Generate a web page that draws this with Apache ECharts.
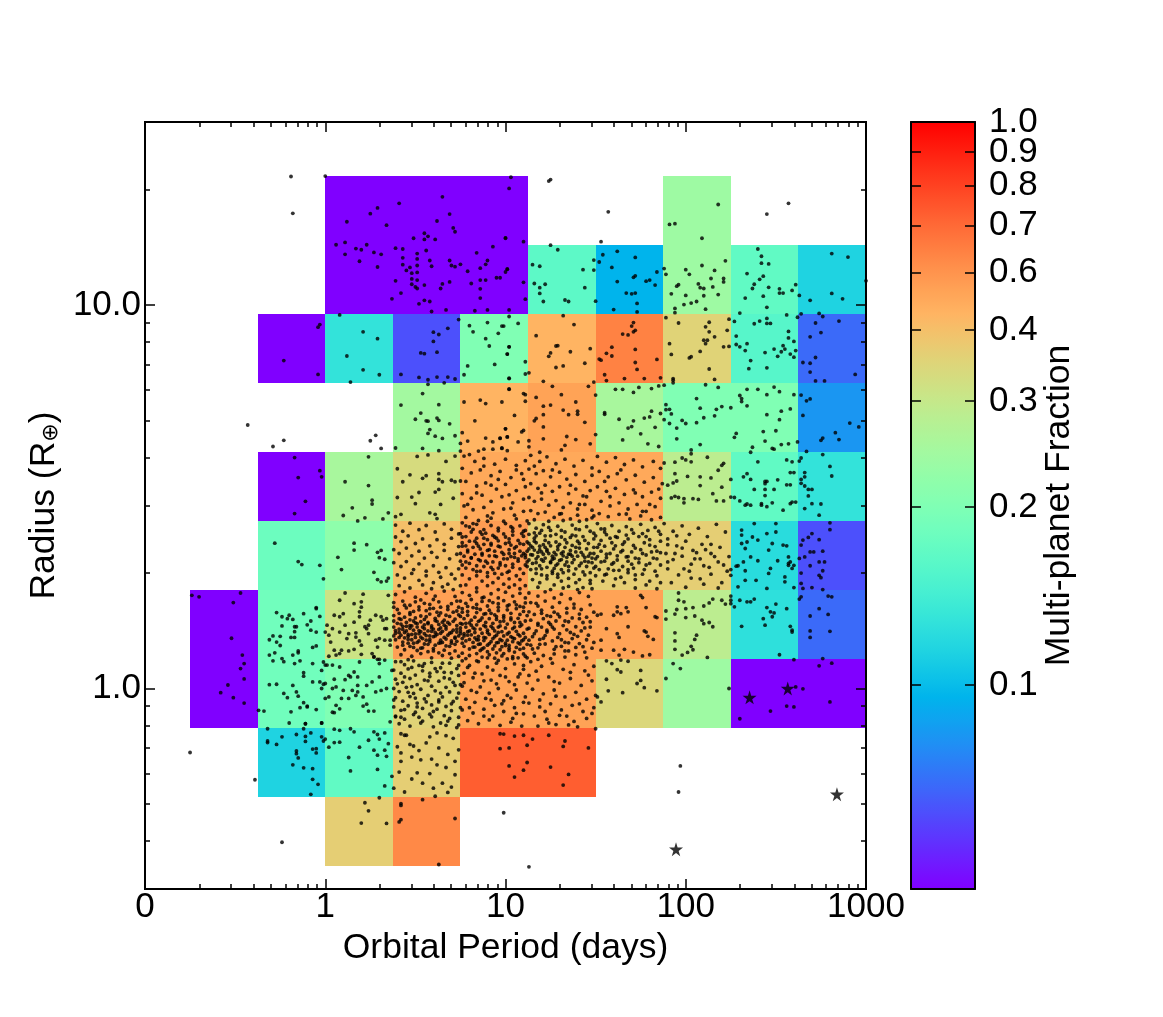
<!DOCTYPE html>
<html><head><meta charset="utf-8">
<style>html,body{margin:0;padding:0;background:#fff}#c{width:1163px;height:1017px}</style>
<script src="https://cdn.jsdelivr.net/npm/echarts@6/dist/echarts.min.js"></script></head>
<body><div id="c"></div><script>
const periodEdges=[0.178,0.422,1,2.37,5.62,13.3,31.6,75,178,422,1000];
const radiusEdges=[0.344,0.520,0.787,1.191,1.803,2.729,4.130,6.252,9.462,14.32,21.68];
const _=null;
const row0=[_,_,.369,.626,_,_,_,_,_,_];
const row1=[_,.119,.175,.369,.729,.729,_,_,_,_];
const row2=[0,.188,.201,.358,.536,.536,.347,.245,0,0];
const row3=[0,.188,.315,.549,.549,.536,.536,.288,.132,.051];
const row4=[_,.184,.223,.401,.563,.369,.369,.369,.128,.038];
const row5=[_,0,.259,.337,.509,.509,.509,.288,.175,.136];
const row6=[_,_,_,.252,.456,.536,.259,.201,.201,.075];
const row7=[_,0,.136,.038,.201,.456,.643,.358,.166,.051];
const row8=[_,_,0,0,0,.171,.094,.245,.175,.119];
const row9=[_,_,0,0,0,_,_,.245,_,_];
const rows=[row0,row1,row2,row3,row4,row5,row6,row7,row8,row9];
const fractionTicks=[0,.1,.2,.3,.4,.6,.7,.8,.9,1];
const tickLabels=['','0.1','0.2','0.3','0.4','0.6','0.7','0.8','0.9','1.0'];
const colorPos=[0,.266,.498,.636,.729,.804,.865,.917,.961,1];
const minorPos=[.0599,.1121,.1565,.1956,.4747,.6010,.6962,.7718,.8345,.8788,.9231,.9335];
const stars=[[226,.948],[368,1.0],[690,.53],[88.3,.381]];
// planets: flat pairs, log10(period)*100, log10(radius)*1000
const topLeft=[-19,1335,0,1336,-18,1239,102,1304,65,1282,29,1253,41,1265,25,1238,69,1237,12,1217,62,1219,34,1208,71,1201,72,1191,55,1187,57,1179,49,1174,55,1171,61,1171,100,1174,93,1152,6,1157,11,1163,17,1147,20,1144,23,1157,11,1132,27,1137,31,1132,19,1114,29,1099,39,1148,43,1146,56,1142,51,1134,43,1123,51,1120,58,1116,69,1116,84,1136,90,1116,89,1106,43,1105,51,1103,59,1101,70,1103,72,1100,75,1106,47,1098,45,1090,51,1085,48,1083,79,1088,86,1096,100,1086,101,1093,48,1068,51,1065,39,1063,69,1060,86,1065,89,1065,95,1071,97,1071,48,1054,55,1052,65,1055,81,1056,50,1047,51,1043,64,1043,86,1042,42,1031,37,1016,55,1012,58,1009,86,1018,52,1003,59,983,67,987,83,985,90,987,102,987,
8,974,-3,949,-4,942,-23,855,-4,819,21,930,29,912,12,867,21,831,30,818,14,799,60,929,63,923,68,939,60,905,53,875,55,873,62,877,42,819,52,811,57,805,62,812,68,812,72,807,57,793,66,797,74,962,80,946,82,930,90,954,98,945,96,926,89,912,91,893,102,891,101,872,94,845,79,841,77,818,102,808,
54,769,42,739,63,740,53,718,50,702,56,698,57,697,62,705,63,699,69,690,58,675,57,665,61,658,65,652,72,659,39,627,54,626,63,620,-43,687,-23,647,-29,631,28,660,25,646,31,626,102,780,77,747,86,752,89,743,98,747,83,698,100,677,76,667,79,645,75,639,89,653,97,652,101,656,93,643,75,619,85,619,88,624,93,624,98,626,
-17,602,-3,568,-2,552,-15,550,-11,488,24,604,11,539,24,529,26,491,26,481,51,605,57,609,72,606,67,592,40,573,63,560,47,557,56,555,54,548,63,545,65,539,43,539,70,543,72,539,75,541,63,519,61,512,52,511,48,499,40,498,71,496,50,482,64,480,-17,456,15,471,10,451,22,445,18,437,32,442,35,458,39,448,42,454,58,458,61,454,62,443];
const topRight=[103,1333,100,1175,110,1165,101,1094,110,1059,111,1015,124,1323,125,1327,157,1243,153,1165,125,1156,129,1144,115,1105,119,1101,143,1092,149,1091,116,1056,122,1054,119,1045,119,1030,121,1009,133,1013,135,1009,144,1045,150,1010,149,1117,152,1112,154,1131,162,1140,172,1124,159,1098,172,1076,171,1072,162,1061,178,1062,180,1065,184,1086,183,1052,167,1031,170,1029,172,1031,173,1004,160,988,173,982,191,1210,194,1212,218,1262,209,1174,222,1115,188,1095,189,1080,200,1092,209,1103,202,1080,216,1090,214,1069,221,1069,221,1060,207,1055,208,1045,210,1043,215,1047,196,1053,195,1049,192,1029,200,1025,210,1024,218,1027,199,1001,203,1005,206,1009,194,991,211,989,194,980,240,1146,242,1127,242,1109,246,1107,234,1082,243,1075,241,1067,238,1054,237,1043,246,1046,233,1018,243,1023,252,1042,252,1031,254,1031,259,1038,261,1053,245,994,263,1025,245,1237,257,1265,281,1134,290,1125,300,1063,281,1030,287,1016,269,1012,
102,970,99,945,107,952,102,891,101,872,111,852,102,809,111,820,113,823,132,972,138,949,117,920,128,893,129,894,125,875,124,866,136,878,147,886,128,837,132,841,144,848,121,801,149,799,171,954,170,945,172,934,171,930,165,924,168,922,159,890,156,874,159,867,172,884,152,859,153,856,172,850,184,858,173,832,155,818,156,803,166,808,177,808,186,810,189,967,196,953,213,955,211,943,213,930,224,963,223,934,216,917,210,908,212,908,211,899,191,899,221,891,224,892,208,879,192,871,203,865,202,862,213,833,216,806,193,808,193,804,193,797,230,979,227,957,238,951,241,958,245,965,245,952,247,952,256,974,257,931,257,914,260,905,228,919,228,897,230,891,234,899,233,881,244,876,249,885,251,866,253,878,254,894,255,885,258,872,260,864,261,881,236,855,235,834,245,836,262,968,264,977,274,978,276,970,272,953,285,958,275,928,269,917,272,863,265,850,269,848,269,825,272,802,277,802,294,819,
102,781,110,769,111,766,111,749,105,712,100,677,109,669,110,673,101,656,107,643,97,653,101,620,98,627,126,788,131,766,117,759,146,788,139,747,125,739,121,736,132,726,140,723,140,715,121,714,135,714,144,694,117,704,116,698,121,682,134,657,139,649,121,651,113,646,113,630,147,638,133,634,131,622,119,616,150,765,161,780,165,780,171,772,174,785,181,782,185,789,188,791,155,719,155,715,163,702,171,698,177,705,180,708,181,723,186,717,168,679,170,683,183,681,175,664,150,662,165,648,179,638,185,631,206,756,208,731,189,740,189,727,191,728,192,716,217,728,220,735,225,732,216,711,210,706,188,701,198,699,200,691,191,691,206,693,195,679,195,651,208,636,211,792,218,785,234,780,240,780,249,786,252,774,245,766,230,764,231,756,231,748,234,737,260,766,258,729,253,723,245,714,252,701,228,665,227,655,243,670,250,672,244,645,237,629,248,626,249,624,253,636,257,638,236,616,262,643,264,765,267,750,269,755,265,712,291,692,296,682,283,667,276,653,275,647,285,649,267,618];
const rightLower=[203,622,203,612,198,601,200,596,203,591,212,603,194,590,188,588,221,587,220,582,218,569,194,560,201,553,208,552,214,549,195,541,193,536,190,530,208,529,220,525,215,508,192,497,194,501,196,498,199,495,204,495,207,493,199,484,217,489,221,489,240,591,256,596,259,591,258,563,260,563,234,560,232,552,236,545,225,545,251,544,256,531,258,531,244,540,245,540,244,534,238,519,244,519,249,519,244,503,227,498,225,499,230,489,234,481,242,482,248,484,259,486,261,486,264,601,263,593,276,610,280,579,266,563,281,554,266,552,264,545,264,535,266,528,268,519,270,519,268,502,275,481,233,478,236,478,242,478,245,474,254,465,258,482,266,469,270,482,274,452,
231,413,231,400,238,430,250,408,250,430,245,404,234,382,233,365,231,378,236,343,232,330,228,319,229,320,225,310,233,307,240,333,246,361,247,313,246,300,251,333,256,372,254,374,257,343,258,330,260,321,259,313,257,321,255,291,255,278,245,261,239,282,229,265,233,282,260,263,248,378,240,387,237,395,257,326,225,295,280,432,280,414,270,404,268,394,265,387,264,374,274,388,269,356,271,356,276,358,266,343,263,339,274,330,269,320,277,330,276,307,274,295,275,289,264,301,264,274,265,261,270,263,276,258,
225,230,230,230,234,226,236,226,238,233,227,213,231,162,245,211,250,220,247,200,249,197,248,187,243,182,244,165,256,208,258,162,259,152,259,147,225,241,225,221,264,239,263,233,274,208,269,189,279,193,279,241,281,239,269,150,269,133,280,149,196,249,196,230,199,226,204,211,210,215,213,223,215,233,220,230,222,220,189,202,195,206,200,208,194,194,189,181,200,185,205,189,209,178,213,172,210,169,215,161,194,145,206,139,205,128,194,124,203,110,204,101,201,94,194,102,198,87,212,81,
162,213,167,211,168,200,162,200,164,195,160,191,153,194,151,191,178,211,183,187,184,185,175,243,176,237,168,161,177,150,178,147,179,136,182,128,162,143,163,133,153,126,156,156,166,102,171,95,176,85,180,88,160,100,163,87,153,100,
156,72,159,65,164,74,168,71,162,49,164,43,156,24,175,47,175,21,173,13,177,2,184,-6,157,-6,165,-11,151,-22,153,-35,193,65,197,52,189,26,224,0,247,-59,256,-46,260,-48,230,-79,261,4,265,-1,280,-35,274,59,281,66,276,78,260,75,252,88,197,-202,196,-270,113,-465,99,-324,
150,-105,97,-118,99,-119,105,-124,110,-122,115,-132,124,-122,133,-137,132,-151,112,-148,102,-155,97,-157,146,-155,112,-193,102,-202,110,-213,125,-205,135,-224,105,-231,132,-252];
const leftLower=[-74,243,-70,239,-47,249,-51,224,-52,131,-46,87,-45,65,-47,52,-45,25,-54,9,-58,-11,-51,-24,-45,-38,-75,-167,-39,-238,-24,-401,
-32,-105,-11,-92,-12,-105,-2,-90,-32,-137,-32,-141,-27,-146,-24,-126,-16,-120,-11,-125,-8,-116,-11,-138,-2,-126,0,-132,-1,-137,-5,-157,-7,-158,-5,-168,-16,-163,-16,-170,-15,-181,-18,-199,-12,-207,-7,-209,-7,-237,-4,-250,-8,-276,
5,-106,8,-109,14,-105,16,-113,2,-153,5,-141,8,-140,19,-153,24,-135,27,-113,29,-120,30,-132,33,-116,27,-161,29,-174,35,-144,33,-161,34,-177,13,-180,14,-215,29,-211,37,-229,33,-254,30,-285,22,-298,24,-319,20,-351,34,-352,42,-305,42,-300,42,-342,41,-348,54,-290,72,-339,63,-459,61,-281,
-28,379,-15,331,-13,323,-3,321,-1,286,16,379,23,375,16,361,7,342,9,310,31,360,29,355,30,341,33,337,27,303,29,284,31,278,34,280,35,288,
-27,198,-24,187,-20,191,-21,182,-18,180,-12,195,-5,211,-5,208,-3,188,-8,176,-10,166,-16,161,-17,161,-24,163,-8,152,-5,147,-17,148,-19,133,-29,137,-31,127,-25,136,-27,121,-17,133,-25,112,-5,111,-7,107,-15,98,-15,93,-28,93,-31,87,-24,78,-29,72,-23,70,-18,87,-17,65,-14,72,-7,65,-1,69,0,61,-2,47,-7,17,-12,41,-12,32,-3,17,-1,11,-2,0,-31,10,-27,11,-18,8,-23,-13,-21,-24,-16,-9,-15,-20,0,-26,-12,-37,-14,-50,-10,-46,-5,-55,-19,-61,-37,-57,-34,-59,-20,-90,-11,-92,-2,-90,4,-62,5,-63,-10,-48,
1,61,4,61,8,56,13,34,16,43,19,69,18,30,5,24,6,4,4,0,10,-5,18,8,23,8,26,17,30,30,28,-9,31,-5,34,0,18,-9,17,-18,21,-22,9,-26,13,-26,2,-22,33,74,30,65,27,83,37,47,6,-44,8,-53,23,-41,21,-46,24,-59,27,-59,36,-87,39,-74,15,-5,14,30,11,23,0,13,
11,249,8,230,21,246,20,226,20,212,35,243,16,221,5,191,10,195,19,200,19,187,28,191,25,178,31,187,32,178,34,182,24,165,23,156,16,173,11,165,4,156,1,165,8,147,13,143,34,156,17,134,24,143,33,156,2,139,12,130,30,130,3,121,19,124,20,113,36,126,36,113,5,100,9,100,8,91,13,98,2,84,20,89,26,91,27,82,29,76,30,76,33,126,29,108,16,102,6,87,22,161,8,187,17,145,0,147,28,126];
// Dense core, read as groups by cell
const coreRow3a=[39,245,44,252,50,238,56,248,61,241,66,254,72,240,38,224,43,228,47,217,53,231,58,219,63,226,68,214,73,228,40,206,45,210,49,201,52,213,56,203,60,209,64,197,68,206,71,199,74,212,38,190,41,196,44,186,47,193,50,184,53,189,55,180,58,194,61,183,63,190,66,178,69,188,72,181,74,192,38,176,40,170,42,180,45,172,47,164,49,176,51,169,53,174,55,166,57,172,59,163,61,177,63,167,65,173,67,161,69,168,71,175,73,164,75,170,38,160,41,155,43,162,45,150,47,157,49,152,51,160,53,148,55,156,57,150,59,158,61,146,63,154,65,149,67,155,69,144,71,152,73,147,75,158,39,144,42,139,44,146,46,136,48,141,50,133,52,143,54,130,56,138,58,128,60,135,62,141,64,126,66,133,68,139,70,124,72,131,74,137,39,127,43,121,46,128,49,118,52,124,55,116,58,122,61,113,64,119,67,111,70,118,73,123,40,108,44,101,47,110,51,99,54,106,57,96,60,104,63,93,66,100,69,91,72,98,42,88,48,84,53,91,59,80,65,86,70,79,74,84];
const coreRow3b=[76,250,80,243,84,252,88,238,92,247,96,236,100,251,104,241,108,248,111,236,75,228,78,222,81,232,84,219,87,227,90,215,93,224,96,212,99,229,102,218,105,226,108,214,111,223,76,208,79,201,82,211,84,198,86,206,89,195,91,204,94,192,96,203,99,190,101,205,103,196,106,208,108,193,110,201,112,190,75,188,77,182,79,191,81,178,83,186,85,175,87,184,89,172,91,182,93,170,95,180,97,174,99,185,101,168,103,179,105,172,107,183,109,166,111,176,76,168,78,160,80,171,82,158,84,166,86,155,88,164,90,152,92,162,94,150,96,160,98,148,100,158,102,146,104,156,106,149,108,162,110,144,112,155,75,150,77,143,79,148,81,140,83,146,85,136,87,144,89,132,91,141,93,130,95,139,97,128,99,137,101,126,103,135,105,130,107,141,109,124,111,133,76,130,78,124,80,128,82,120,84,127,86,116,88,125,90,113,92,122,94,111,96,120,98,109,100,118,102,112,104,122,106,107,108,116,110,105,112,115,77,110,80,103,83,108,86,99,88,106,90,96,93,103,95,93,97,101,99,91,102,99,105,95,108,102,110,90,76,92,80,86,84,91,87,82,91,88,94,79,98,85,101,77,104,83,107,80,111,84,78,78,84,72,90,80,96,73,104,78];
const coreRow3c=[113,249,118,241,122,252,127,236,131,246,136,234,141,250,146,240,114,224,118,215,122,228,126,212,130,224,134,209,138,220,142,206,147,218,113,200,116,193,120,204,123,190,127,199,130,187,134,197,137,184,141,194,145,186,149,199,114,178,118,170,121,182,125,167,128,176,132,164,135,174,139,161,143,172,147,160,113,157,117,150,120,160,123,147,127,155,130,143,134,153,138,141,142,150,146,139,115,135,119,128,122,138,126,124,129,133,133,120,137,130,141,117,145,127,149,120,114,113,118,106,122,116,127,102,131,110,135,98,139,107,144,95,148,105,116,92,121,86,127,90,133,82,139,88,145,80,112,80,118,76,125,78];
const coreRow4a=[39,426,43,410,47,431,52,414,56,425,61,408,66,429,70,415,74,403,39,395,42,383,46,398,50,378,54,390,58,372,62,388,66,376,70,392,74,370,38,362,41,352,45,366,48,346,52,358,55,340,59,355,62,342,66,360,69,338,73,350,75,332,38,328,42,318,45,331,49,310,52,325,56,306,60,320,63,303,67,315,70,298,74,312,40,296,44,288,48,300,52,282,56,294,60,276,64,290,68,272,72,286,75,268,41,268,47,262,54,270,59,260,65,265,71,258];
const coreRow4b=[76,432,80,421,84,428,88,414,92,425,96,411,100,430,104,418,108,424,111,412,75,404,78,396,81,408,84,392,87,402,90,388,93,399,96,385,99,403,102,390,104,400,107,386,110,397,112,382,76,380,78,372,80,384,82,368,84,378,86,364,88,376,90,360,92,374,94,358,96,371,98,355,100,378,102,362,103,374,105,352,106,370,108,358,110,376,111,348,75,352,77,345,79,356,81,340,83,350,85,336,87,348,89,332,91,346,93,330,95,344,97,328,99,350,101,338,102,352,104,324,105,342,107,332,109,346,111,322,76,322,78,314,80,326,82,310,84,320,86,306,88,318,90,302,92,316,94,300,96,314,98,298,100,320,102,306,104,316,106,294,108,312,110,300,112,318,76,296,80,286,84,294,87,280,90,292,93,276,96,288,99,272,102,286,105,270,108,284,111,268,78,270,84,262,90,268,96,258,102,264,108,260];
const coreRow4c=[113,430,117,418,121,427,125,412,129,423,133,408,137,426,141,414,145,422,149,405,113,402,116,392,119,405,122,386,125,398,128,382,131,395,134,380,137,400,140,384,143,396,146,378,149,390,113,378,115,368,117,380,119,362,121,375,123,358,125,372,127,355,129,370,131,352,133,368,135,350,137,373,139,356,141,366,143,348,145,364,147,352,149,368,112,358,114,349,116,361,118,344,120,356,122,340,124,352,126,337,128,349,130,334,132,346,134,330,136,350,138,336,140,345,142,327,144,342,146,330,148,340,113,335,115,326,117,338,119,320,121,332,123,316,125,328,127,313,129,325,131,310,133,322,135,307,137,328,139,312,141,320,143,304,145,318,147,302,149,314,114,310,117,300,120,312,123,294,126,306,129,290,132,302,135,287,138,298,141,284,144,296,147,282,150,294,115,284,119,276,123,286,127,270,131,280,135,266,139,276,143,263,147,274,118,264,125,258,132,262,140,258,148,260];
const coreRow4d=[151,430,155,416,159,425,163,410,167,422,171,405,175,428,179,412,183,420,186,402,150,398,153,386,156,401,159,380,162,394,165,376,168,390,171,373,174,396,177,380,180,388,183,370,186,384,151,368,153,358,155,371,158,352,160,364,162,346,165,360,167,343,170,356,172,340,175,362,178,348,181,356,184,338,150,338,153,330,156,341,159,324,162,335,165,318,168,332,171,314,174,328,177,310,180,326,183,306,186,322,152,310,156,298,160,308,164,290,168,302,172,284,176,298,180,280,184,294,186,276,154,280,160,268,166,276,172,262,178,270,184,260,
188,430,193,410,198,424,202,402,207,418,212,396,217,428,222,408,190,390,195,372,200,384,204,360,209,376,214,352,219,368,224,344,189,352,193,336,198,345,203,324,208,338,213,316,218,330,223,306,190,312,196,296,202,306,208,286,214,298,220,276,192,276,200,264,210,272,218,262];
const coreRow5=[77,606,83,592,88,600,94,585,100,598,106,582,111,594,76,574,81,562,86,570,92,555,97,566,103,550,109,560,78,540,84,528,89,536,95,520,100,532,106,516,111,526,76,508,81,496,87,504,92,488,98,500,104,484,110,494,77,476,82,466,88,472,93,458,99,468,105,452,110,462,78,446,85,438,92,444,99,436,106,442,112,437,
114,608,119,592,123,604,128,586,133,598,138,580,143,595,148,575,113,572,117,560,121,568,125,552,130,564,134,546,139,558,144,540,148,556,114,534,118,522,122,530,126,514,130,526,135,508,139,520,143,502,147,516,113,498,116,488,120,494,124,478,128,490,132,472,136,484,140,468,144,480,148,465,114,464,118,456,122,460,127,446,131,456,136,442,140,452,145,440,149,450,116,440,124,436,132,438,141,436,
151,605,156,590,161,602,166,584,171,596,176,578,182,592,186,574,152,566,157,552,162,560,167,544,172,556,177,538,182,550,187,534,151,526,156,514,161,522,166,506,171,518,176,500,181,512,186,496,153,488,158,476,163,484,168,468,173,480,178,462,183,474,152,456,157,448,163,454,169,442,175,450,181,440,186,446];
const coreRow2a=[39,70,44,62,49,72,54,58,59,68,64,54,69,66,74,60,38,48,42,40,46,51,50,35,54,46,58,31,62,44,66,28,70,41,74,34,39,24,43,16,47,26,51,10,55,22,59,6,63,19,67,3,71,16,75,10,38,0,41,-8,45,3,49,-13,53,-2,57,-18,61,-6,65,-22,69,-9,73,-25,39,-24,43,-33,47,-21,51,-38,55,-27,59,-43,63,-30,67,-47,71,-34,75,-50,38,-48,42,-57,46,-45,50,-62,54,-52,58,-67,62,-54,66,-71,70,-58,74,-75,39,-72,44,-80,49,-68,54,-85,59,-74,64,-90,69,-78,74,-95,41,-92,47,-98,53,-90,60,-100,67,-96,73,-102,
42,-118,45,-122,49,-150,47,-146,52,-162,40,-152,42,-168,44,-122,58,-126,62,-116,67,-123,71,-130,56,-142,63,-155,68,-172,74,-160,48,-179,53,-186,59,-184,42,-190,62,-199,67,-206,72,-190,51,-220,58,-222,48,-236,54,-247,65,-247,44,-270,60,-260,68,-271,38,-260,70,-257,72,-225,41,-218];
const coreRow2b=[76,72,80,60,85,70,90,56,95,66,100,52,105,64,110,50,77,40,82,28,87,38,92,22,97,34,102,18,107,30,112,14,76,6,81,-5,86,4,91,-12,96,0,101,-18,106,-4,111,-22,78,-28,83,-36,89,-26,94,-44,99,-32,105,-50,110,-36,76,-56,82,-64,88,-54,93,-72,99,-60,104,-78,110,-66,79,-84,85,-92,91,-82,97,-96,103,-88,109,-98,
114,70,120,58,126,66,132,50,138,62,144,46,149,58,113,34,118,22,124,30,130,14,136,26,142,8,148,20,115,-2,121,-14,127,-4,133,-22,139,-10,145,-28,150,-18,113,-38,119,-48,125,-40,131,-56,137,-44,143,-60,149,-50,116,-72,123,-80,130,-70,138,-86,145,-78,118,-98,128,-94,140,-100];
// extra planets in the crowded clusters
const clusterLeft=[48,163,52,151,46,141,57,169,61,137,43,154,55,143,64,158,50,171,59,149,41,146,67,129,53,134,45,162,62,175,70,146,48,127,73,155,58,137,51,120,44,132,66,165,39,151,72,134,56,126,60,155,47,179,54,160,64,144,42,168,68,172,50,142,75,143,57,115,41,133,63,118,69,110,46,118,53,105,60,98,38,137,65,120,49,107,72,115,43,113,56,187,62,199,47,198,52,205,67,191,73,202,41,182,58,208,44,217,70,221,64,212,50,226,38,212,60,232,55,222,
79,139,85,127,90,146,83,155,95,119,88,133,101,142,76,118,93,157,82,108,98,125,104,132,87,103,91,117,108,137,80,150,96,146,85,115,102,105,77,137,107,119,94,135,89,161,100,112,83,132,110,127,97,163,78,170,105,160,86,178,92,196,81,165,99,176,88,194,103,184,76,199,95,187,108,172,84,209,101,215,91,229,106,218,79,214,96,221,87,236,110,212,
116,143,121,131,126,160,119,115,131,127,124,172,136,146,113,126,128,109,140,136,118,165,133,176,123,152,144,158,135,119,115,103,129,194,141,182,120,196,125,188,138,210,117,222,147,174,133,98,143,109];
const clusterCentre=[88,392,92,378,85,371,97,369,102,381,79,361,94,346,87,352,99,338,105,366,91,362,83,384,76,371,100,395,108,378,95,392,81,341,103,344,90,327,97,322,86,333,107,338,78,330,93,310,101,303,84,305,110,352,89,405,96,418,82,415,104,410,76,395,110,410,
114,372,118,355,111,341,122,368,116,384,126,345,120,336,113,364,129,362,124,380,117,328,132,356,127,339,121,350,136,360,115,348,130,376,125,330,119,371,134,342,112,330,139,368,128,321,123,362,142,355,137,345,117,312,146,345,131,336,141,378,144,332,149,352,126,300,135,318,120,296,129,298,148,328,133,388,122,398,139,398,116,406,
152,376,156,350,161,372,158,392,164,356,168,344,151,344,172,366,155,332,176,352,160,328,166,382,180,374,150,318,170,324,184,358,163,308,174,338,157,312,178,322,168,310,182,340,155,296,172,296,186,354,161,286,153,416,167,400,176,404,
190,375,194,352,198,366,205,338,211,362,216,344,190,330,199,312,206,354,221,322,195,398,214,376,203,288,210,320];
const clusterUpper=[78,424,86,408,94,395,103,422,109,404,82,430,90,436,117,398,124,420,131,412,139,416,147,410,120,412,128,402,136,394,144,386,155,408,161,396,170,414,178,396,185,410,
80,610,88,580,96,545,106,570,84,510,92,530,102,505,110,545,79,480,90,450,103,470,116,580,126,570,136,530,145,500,120,510,130,455,141,480,148,445,155,540,164,570,172,510,180,480,158,500,167,455,185,520,176,462];
const clusterLower=[42,70,48,55,44,30,52,60,57,20,61,52,46,-10,40,12,66,42,72,8,50,-25,56,-35,64,-12,70,-40,44,-55,52,-75,60,-60,68,-85,38,-30,48,5,73,52,58,40,42,-75,55,65,46,75,65,66,69,25,63,-35,51,-48,74,-12,
79,55,88,20,93,48,100,30,108,38,84,-10,98,-40,105,10,77,15,92,-30,110,60,83,40,88,-72,103,-25,95,12,80,-50,106,-65,
117,45,127,18,136,42,146,35,119,-30,128,-20,141,-40,122,-60,134,-72,148,-65,124,-90,135,-95];
// helpers
function pos(f){for(let i=1;i<fractionTicks.length;i++){if(f<=fractionTicks[i]){const a=fractionTicks[i-1],b=fractionTicks[i];return colorPos[i-1]+(f-a)/(b-a)*(colorPos[i]-colorPos[i-1]);}}return 1;}
const cells=[];
rows.forEach((r,j)=>r.forEach((f,i)=>{if(f!==null)cells.push([periodEdges[i],periodEdges[i+1],radiusEdges[j],radiusEdges[j+1],pos(f)]);}));
function toPts(a){const o=[];for(let i=0;i+1<a.length;i+=2)o.push([Math.pow(10,a[i]/100),Math.pow(10,a[i+1]/1000)]);return o;}
const points=[topLeft,topRight,rightLower,leftLower,coreRow3a,coreRow3b,coreRow3c,coreRow4a,coreRow4b,coreRow4c,coreRow4d,coreRow5,coreRow2a,coreRow2b,clusterLeft,clusterCentre,clusterUpper,clusterLower].map(toPts).flat();
const rainbowStops=[];
for(let i=0;i<=32;i++){const t=i/32,c=v=>Math.round(255*Math.min(1,Math.max(0,v)));rainbowStops.push('rgb('+c(Math.abs(2*t-.5))+','+c(Math.sin(Math.PI*t))+','+c(Math.cos(Math.PI*t/2))+')');}
const xMinor=[],yMinor=[];
[.1,1,10,100].forEach(d=>{for(let k=2;k<10;k++)xMinor.push(+(d*k).toPrecision(3));});
[.3,.4,.5,.6,.7,.8,.9,2,3,4,5,6,7,8,9,20,30].forEach(v=>yMinor.push(v));
const F='"Liberation Sans",Arial,sans-serif';
const lab={fontFamily:F,fontSize:35,color:'#000'};
const nameLab={fontFamily:F,fontSize:35.5,color:'#000'};
const gridA={left:145,top:122,width:721,height:767};
const gridC={left:911,top:122,width:64,height:767};
const line={show:true,onZero:false,lineStyle:{color:'#000',width:2}};
function xAx(g,p,vals,len,extra){return Object.assign({type:'log',logBase:10,gridIndex:g,position:p,min:.1,max:1000,z:10,axisLine:line,splitLine:{show:false},minorTick:{show:false},axisLabel:{show:false},axisTick:{show:true,inside:true,length:len,customValues:vals,lineStyle:{color:'#000',width:1.5}}},extra||{});}
function yAx(g,p,vals,len,extra){return Object.assign({type:'log',logBase:10,gridIndex:g,position:p,min:.3,max:30,z:10,axisLine:line,splitLine:{show:false},minorTick:{show:false},axisLabel:{show:false},axisTick:{show:true,inside:true,length:len,customValues:vals,lineStyle:{color:'#000',width:1.5}}},extra||{});}
const barLabel=vals=>Object.assign({show:true,margin:14,customValues:vals,hideOverlap:false,showMinLabel:true,showMaxLabel:true,lineHeight:24,padding:[5,0,0,0],formatter:v=>tickLabels[colorPos.indexOf(v)]},lab);
const option={animation:false,backgroundColor:'#fff',
grid:[gridA,gridA,gridC,gridC],
xAxis:[
 xAx(0,'bottom',[1,10,100],10,{name:'Orbital Period (days)',nameLocation:'middle',nameGap:37,nameTextStyle:nameLab,axisLabel:Object.assign({show:true,margin:1,customValues:[.1,1,10,100,1000],showMinLabel:true,showMaxLabel:true,hideOverlap:false,formatter:v=>v<.5?'0':String(Math.round(v))},lab)}),
 xAx(0,'top',[1,10,100],10),
 xAx(1,'bottom',xMinor,5),
 xAx(1,'top',xMinor,5),
 {type:'value',gridIndex:2,position:'bottom',min:0,max:1,axisLine:line,axisTick:{show:false},axisLabel:{show:false},splitLine:{show:false},z:10},
 {type:'value',gridIndex:2,position:'top',min:0,max:1,axisLine:line,axisTick:{show:false},axisLabel:{show:false},splitLine:{show:false},z:10},
 {type:'value',gridIndex:3,min:0,max:1,show:false}
],
yAxis:[
 yAx(0,'left',[1,10],10,{name:'Radius (R{s|⊕})',nameLocation:'middle',nameGap:76,nameRotate:90,nameTextStyle:Object.assign({rich:{s:{fontFamily:'DejaVu Sans',fontSize:22,color:'#000',verticalAlign:'bottom',lineHeight:34}}},nameLab),axisLabel:Object.assign({show:true,margin:4,customValues:[1,10],hideOverlap:false,formatter:v=>v<5?'1.0':'10.0'},lab)}),
 yAx(0,'right',[1,10],10),
 yAx(1,'left',yMinor,5),
 yAx(1,'right',yMinor,5),
 {type:'value',gridIndex:2,position:'left',min:0,max:1,axisLine:line,axisLabel:{show:false},splitLine:{show:false},z:10,axisTick:{show:true,inside:true,length:10,customValues:colorPos.slice(1,-1),lineStyle:{color:'#000',width:1.5}}},
 {type:'value',gridIndex:2,position:'right',min:0,max:1,axisLine:line,splitLine:{show:false},z:10,axisTick:{show:true,inside:true,length:10,customValues:colorPos.slice(1,-1),lineStyle:{color:'#000',width:1.5}},
  axisLabel:barLabel([.266,.636,.804,.917,1]),
  name:'Multi-planet Fraction',nameLocation:'middle',nameGap:65,nameRotate:90,nameTextStyle:nameLab},
 {type:'value',gridIndex:3,position:'right',min:0,max:1,axisLine:{show:false},splitLine:{show:false},axisLabel:barLabel([.498,.729,.865,.961]),axisTick:{show:true,inside:false,length:2,customValues:minorPos,lineStyle:{color:'#888',width:1}}}
],
visualMap:{type:'continuous',show:true,seriesIndex:0,dimension:4,min:0,max:1,left:911,top:122,itemWidth:64,itemHeight:767,padding:0,text:null,calculable:false,hoverLink:false,showLabel:false,inRange:{color:rainbowStops}},
series:[
 {type:'custom',xAxisIndex:0,yAxisIndex:0,silent:true,z:2,data:cells,encode:{x:[0,1],y:[2,3]},clip:true,
  renderItem:(p,api)=>{const a=api.coord([api.value(0),api.value(3)]),b=api.coord([api.value(1),api.value(2)]);const x=Math.round(a[0]),y=Math.round(a[1]);return{type:'rect',shape:{x:x,y:y,width:Math.round(b[0])-x,height:Math.round(b[1])-y},style:{fill:api.visual('color')}};}},
 {type:'scatter',xAxisIndex:0,yAxisIndex:0,silent:true,z:3,symbolSize:3.8,itemStyle:{color:'#000'},data:points,clip:false},
 {type:'scatter',xAxisIndex:0,yAxisIndex:0,silent:true,z:4,symbol:'path://M50,0 L61,35 L98,35 L68,57 L79,91 L50,70 L21,91 L32,57 L2,35 L39,35 Z',symbolSize:14,itemStyle:{color:'#000'},data:stars}
]};
echarts.init(document.getElementById('c'),null,{renderer:'canvas'}).setOption(option);
</script></body></html>
